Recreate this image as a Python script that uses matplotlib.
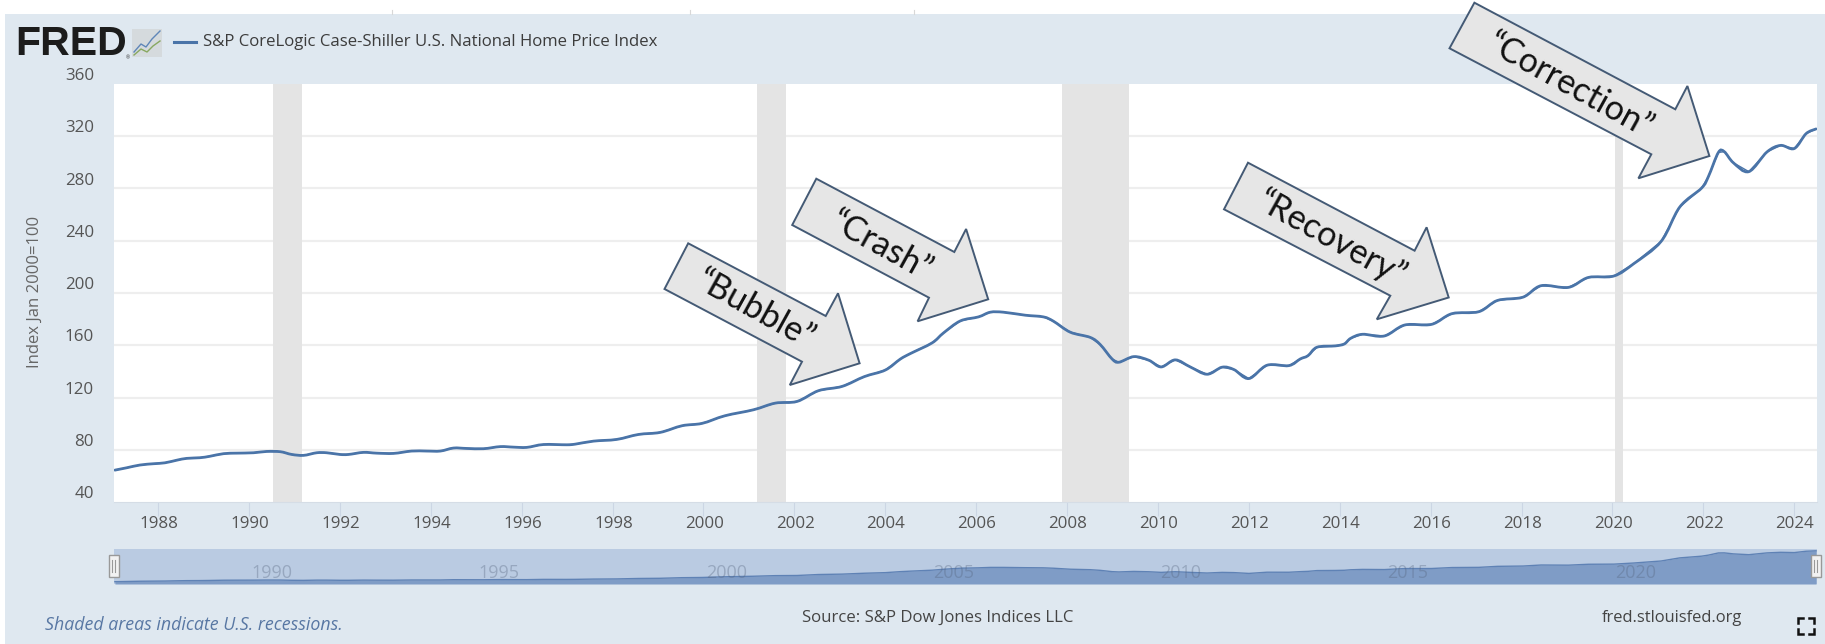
import matplotlib
matplotlib.use("Agg")
import matplotlib.pyplot as plt
from matplotlib.patches import Polygon, Rectangle, PathPatch
from matplotlib.path import Path

plt.rcParams['font.family'] = ['Open Sans', 'DejaVu Sans']

W, H = 1825, 644
PANEL = '#dfe8f0'
LINE = '#4a74a8'

years = [1987.05, 1987.31, 1987.6, 1987.9, 1988.15, 1988.41, 1988.63, 1988.92, 1989.14, 1989.44, 1989.73,
         1990.1, 1990.39, 1990.69, 1990.94, 1991.2, 1991.49, 1991.71, 1992.0, 1992.19, 1992.52, 1992.81,
         1993.18, 1993.58, 1993.91, 1994.21, 1994.5, 1994.79, 1995.16, 1995.53,
         1995.82, 1996.11, 1996.48, 1996.99, 1997.18, 1997.58, 1998.09, 1998.57, 1999.05, 1999.53,
         1999.97, 2000.47, 2001.1, 2001.58, 2002.06, 2002.53, 2003.05, 2003.54, 2004.0, 2004.33,
         2004.55, 2005.03, 2005.28, 2005.65, 2006.05, 2006.31, 2006.6, 2007.08, 2007.48, 2007.7,
         2008.07, 2008.51, 2008.73, 2008.99, 2009.14, 2009.47, 2009.8, 2010.07, 2010.38, 2010.71,
         2011.08, 2011.41, 2011.67, 2012.0, 2012.4, 2012.88, 2013.13, 2013.3, 2013.5, 2013.9, 2014.1, 2014.24,
         2014.5, 2014.98, 2015.43, 2016.02, 2016.47, 2017.06, 2017.47, 2018.03, 2018.43, 2019.03,
         2019.47, 2020.03, 2020.47, 2021.07, 2021.48, 2021.96, 2022.11, 2022.33, 2022.46, 2022.66,
         2023.0, 2023.4, 2023.7, 2024.0, 2024.26, 2024.48]
values = [64.4, 66.2, 68.3, 69.3, 70.0, 72.0, 73.4, 73.9, 75.0, 77.0, 77.4,
          77.7, 78.7, 78.5, 76.4, 75.7, 77.7, 77.7, 76.4, 76.4, 78.0, 77.4,
          77.2, 79.0, 79.0, 79.0, 81.3, 81.0, 80.8, 82.4,
          82.0, 81.8, 84.0, 83.8, 84.3, 86.6, 87.9, 91.7, 93.3, 98.4,
          100.2, 106.0, 110.6, 115.7, 117.0, 125.2, 128.5, 136.0, 141.0, 149.4,
          153.6, 161.8, 169.4, 178.6, 181.7, 185.3, 185.3, 183.0, 181.7, 178.4,
          170.0, 166.0, 160.5, 149.5, 147.0, 151.3, 148.5, 143.4, 148.8, 143.4,
          137.8, 143.2, 141.4, 134.5, 144.7, 144.4, 149.5, 152.0, 158.5, 159.5, 161.0, 165.3,
          168.4, 167.1, 175.5, 176.0, 184.2, 185.7, 194.3, 196.8, 205.6, 204.3,
          211.9, 213.0, 222.5, 239.5, 265.8, 280.3, 289.1, 307.6, 308.2, 299.7,
          292.9, 308.0, 313.0, 310.6, 322.0, 325.6]
recessions = [(1990.52, 1991.17), (2001.17, 2001.82), (2007.88, 2009.37), (2020.05, 2020.23)]
y_ticks = [40, 80, 120, 160, 200, 240, 280, 320, 360]
x_ticks = list(range(1988, 2025, 2))
nav_years = [1990, 1995, 2000, 2005, 2010, 2015, 2020]

title = 'S&P CoreLogic Case-Shiller U.S. National Home Price Index'
y_label = 'Index Jan 2000=100'
callouts = ['\u201cBubble\u201d', '\u201cCrash\u201d', '\u201cRecovery\u201d', '\u201cCorrection\u201d']

fig = plt.figure(figsize=(W / 100, H / 100), dpi=100, facecolor='white')


def rect(l, t, r, b):
    return [l / W, 1 - b / H, (r - l) / W, (b - t) / H]


def smooth_path(xs, ys):
    """Catmull-Rom curve through the series, so the joins stay round."""
    n = len(xs)
    verts = [(xs[0], ys[0])]
    codes = [Path.MOVETO]
    for i in range(n - 1):
        a, b = max(i - 1, 0), min(i + 2, n - 1)
        verts.append((xs[i] + (xs[i + 1] - xs[a]) / 6, ys[i] + (ys[i + 1] - ys[a]) / 6))
        verts.append((xs[i + 1] - (xs[b] - xs[i]) / 6, ys[i + 1] - (ys[b] - ys[i]) / 6))
        verts.append((xs[i + 1], ys[i + 1]))
        codes += [Path.CURVE4] * 3
    return Path(verts, codes)


# backdrop in pixel coordinates
bg = fig.add_axes([0, 0, 1, 1], zorder=0)
bg.set_xlim(0, W); bg.set_ylim(H, 0); bg.axis('off')
bg.add_patch(Rectangle((5, 14), W - 5, H - 14, fc=PANEL, ec='none'))
for x in [392, 690, 914]:
    bg.plot([x, x], [10, 14], color='#d8d8d8', lw=0.8)

# main plot
ax = fig.add_axes(rect(114, 84, 1817, 502), zorder=1)
ax.set_xlim(1987.03, 2024.5)
ax.set_ylim(40, 360)
ax.set_facecolor('white')
for a, b in recessions:
    ax.axvspan(a, b, color='#e4e4e4', lw=0, zorder=1)
for v in y_ticks[1:-1]:
    ax.axhline(v, color='#eeeeee', lw=1.6, zorder=0.5)
ax.plot(years, values, color=LINE, lw=1.0, zorder=2)
ax.add_patch(PathPatch(smooth_path(years, values), fc='none', ec=LINE, lw=2.0, zorder=2.1,
                       joinstyle='round', capstyle='round'))
ax.set_yticks(y_ticks)
ax.set_xticks(x_ticks)
for s in ax.spines.values():
    s.set_visible(False)
ax.spines['bottom'].set_visible(True)
ax.spines['bottom'].set_color('#d5dde6')
ax.tick_params(axis='y', length=0, pad=0, labelleft=False)
ax.tick_params(axis='x', length=10, width=0.8, color='#ccd6e4', labelbottom=False)

# navigator
nav = fig.add_axes(rect(114, 549, 1817, 584), zorder=1)
nav.set_xlim(1987.03, 2024.5)
nav.set_ylim(45, 341)
nav.set_facecolor('#bacbe2')
nav.fill_between(years, values, 45, color='#7f9cc6', lw=0)
nav.plot(years, values, color='#5f82b5', lw=1.0)
nav.set_xticks([]); nav.set_yticks([])
for s in nav.spines.values():
    s.set_visible(False)
for yr in nav_years:
    nav.text(yr + 0.5, 135, str(yr), ha='center', va='center', fontsize=13,
             color='#56657e', alpha=0.35)

# foreground in pixel coordinates
ov = fig.add_axes([0, 0, 1, 1], zorder=3)
ov.set_xlim(0, W); ov.set_ylim(H, 0); ov.axis('off'); ov.patch.set_alpha(0)

# y tick labels, raised above their gridlines
for v in y_ticks:
    py = 84 + (360 - v) * 418 / 320
    ov.text(94, py - 8, str(v), ha='right', va='center', fontsize=12.2, color='#555555')
for yr in x_ticks:
    px = 158 + (yr - 1988) * 45.44
    ov.text(px + 1, 524, str(yr), ha='center', va='center', fontsize=12.2, color='#555555')
ov.text(35, 292, y_label, rotation=90, ha='center', va='center', fontsize=12, color='#666666')

# header
ov.text(15, 43.5, 'FRED', ha='left', va='center', fontsize=29.5, fontweight='bold',
        color='#1c1c1c', family=['Liberation Sans', 'DejaVu Sans'])
ov.text(128, 58, '\u00ae', ha='center', va='center', fontsize=3.5, color='#333333')
ov.add_patch(Rectangle((132, 29), 30, 28, fc='#d5dadd', ec='none'))
ov.plot([134, 141, 146, 152, 160], [52, 44, 47, 39, 31], color='#5f86b8', lw=1)
ov.plot([134, 141, 147, 153, 160], [55, 49, 52, 46, 41], color='#88a860', lw=1)
ov.plot([174, 196], [42, 42], color=LINE, lw=2.2)
ov.text(203, 41.5, title, ha='left', va='center', fontsize=12.1, color='#3c3c3c')

# footer
ov.text(45, 625, 'Shaded areas indicate U.S. recessions.', ha='left', va='center',
        fontsize=12.8, style='italic', color='#5877a3')
ov.text(802, 618, 'Source: S&P Dow Jones Indices LLC', ha='left', va='center', fontsize=12.1, color='#444444')
ov.text(1602, 618, 'fred.stlouisfed.org', ha='left', va='center', fontsize=11.9, color='#444444')
for cx, cy, dx, dy in [(1798, 618, 1, 1), (1814, 618, -1, 1), (1798, 634, 1, -1), (1814, 634, -1, -1)]:
    ov.plot([cx + 5 * dx, cx, cx], [cy, cy, cy + 5 * dy], color='#111111', lw=1.8, solid_joinstyle='miter')

# navigator handles
for hx in [114, 1816]:
    ov.add_patch(Rectangle((hx - 5, 555), 10, 22, fc='#f2f2f2', ec='#999999', lw=1))
    ov.plot([hx - 1.5, hx - 1.5], [560, 572], color='#999999', lw=0.8)
    ov.plot([hx + 1.5, hx + 1.5], [560, 572], color='#999999', lw=0.8)

# callout arrows
shapes = [
    [(688.2, 243.3), (825.7, 316), (838, 293.3), (859.6, 363.3), (789.8, 385), (802, 361.7), (664.5, 289)],
    [(816.3, 178.7), (954.3, 252), (966.1, 229), (988.2, 299.3), (917.6, 321.3), (929, 297.7), (792.2, 225)],
    [(1248, 162.7), (1414.6, 250.7), (1426.6, 227.3), (1448.7, 297.5), (1376.8, 319.3), (1390.3, 295.7), (1224, 209.3)],
    [(1474.4, 2.7), (1675.3, 109.3), (1687.4, 86), (1709.4, 156), (1638.4, 178.3), (1651.3, 154.3), (1449.5, 48.3)],
]
centres = [(755, 310), (881, 246), (1331, 239), (1570, 86)]
for pts, c, s in zip(shapes, centres, callouts):
    ov.add_patch(Polygon(pts, closed=True, fc='#e6e6e6', ec='#445a75', lw=1.4, joinstyle='miter', clip_on=False))
    ov.text(c[0], c[1], s, rotation=-29, rotation_mode='anchor', ha='center', va='center',
            fontsize=24.5, color='#111111', family=['Lato', 'DejaVu Sans'])

fig.savefig('out.png', dpi=100)
